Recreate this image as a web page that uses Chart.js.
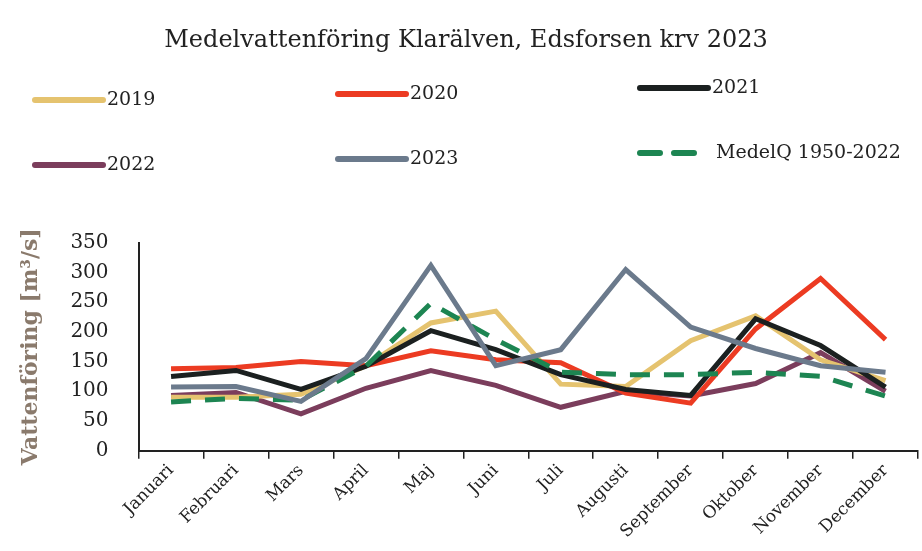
<!DOCTYPE html>
<html>
<head>
<meta charset="utf-8">
<script src="https://cdn.jsdelivr.net/npm/chart.js@4.4.0/dist/chart.umd.min.js"></script>
<style>
  html, body { margin: 0; padding: 0; background: #fff; }
  #wrap { width: 922px; height: 551px; position: relative; }
</style>
</head>
<body>
<div id="wrap"><canvas id="flowChart" width="922" height="551"></canvas></div>
<script>
const months = ['Januari', 'Februari', 'Mars', 'April', 'Maj', 'Juni', 'Juli', 'Augusti', 'September', 'Oktober', 'November', 'December'];

const flow2019 = [90, 90, 95, 143, 215, 235, 112, 108, 185, 227, 153, 118];
const flow2020 = [138, 140, 150, 143, 168, 153, 148, 97, 80, 205, 290, 187];
const flow2021 = [125, 135, 103, 142, 202, 170, 128, 103, 93, 222, 177, 107];
const flow2022 = [93, 98, 62, 105, 135, 110, 73, 100, 92, 113, 165, 100];
const flow2023 = [107, 108, 83, 155, 312, 143, 170, 305, 208, 172, 143, 132];
const medelQ = [82, 88, 85, 142, 248, 187, 132, 128, 128, 132, 125, 92];

const yTicks = [0, 50, 100, 150, 200, 250, 300, 350];

const serif = '"DejaVu Serif", "Liberation Serif", serif';

// legend drawn on canvas in a 3 x 2 grid, from the dataset list
const gridLegend = {
  id: 'gridLegend',
  afterDraw(chart) {
    const ctx = chart.ctx;
    const cols = [35, 338, 640];
    const rows = [100, 165];
    chart.data.datasets.forEach((ds, i) => {
      const x = cols[i % 3];
      const y = rows[Math.floor(i / 3)] - (i % 3) * 6;
      ctx.save();
      ctx.strokeStyle = ds.borderColor;
      ctx.lineWidth = 6;
      ctx.lineCap = 'round';
      ctx.setLineDash(ds.borderDash || []);
      ctx.beginPath();
      ctx.moveTo(x, y);
      ctx.lineTo(x + 68, y);
      ctx.stroke();
      ctx.setLineDash([]);
      ctx.fillStyle = '#222';
      ctx.font = '19px ' + serif;
      ctx.textBaseline = 'middle';
      ctx.fillText(ds.label, x + (ds.borderDash ? 76 : 72), y);
      ctx.restore();
    });
  }
};

const ctx = document.getElementById('flowChart').getContext('2d');
new Chart(ctx, {
  type: 'line',
  data: {
    labels: months,
    datasets: [
      { label: '2019', data: flow2019, borderColor: '#e5c36f', order: 5 },
      { label: '2020', data: flow2020, borderColor: '#ec3b22', order: 4 },
      { label: '2021', data: flow2021, borderColor: '#1b2020', order: 3 },
      { label: '2022', data: flow2022, borderColor: '#7b3d5c', order: 6 },
      { label: '2023', data: flow2023, borderColor: '#6b7a8c', order: 1 },
      { label: 'MedelQ 1950-2022', data: medelQ, borderColor: '#1d8552', borderDash: [20, 14], order: 2 }
    ].map(ds => Object.assign({ borderWidth: 5, pointRadius: 0, tension: 0, fill: false }, ds))
  },
  options: {
    responsive: false,
    animation: false,
    layout: { padding: { top: 10, right: 4, left: 14, bottom: 7 } },
    plugins: {
      legend: { display: false },
      tooltip: { enabled: false },
      title: {
        display: true,
        text: 'Medelvattenföring Klarälven, Edsforsen krv 2023',
        color: '#222',
        font: { family: serif, size: 24, weight: 'normal' },
        padding: { top: 16, bottom: 188 }
      }
    },
    scales: {
      x: {
        offset: true,
        grid: { display: true, drawOnChartArea: false, drawTicks: true, tickLength: 8, offset: true, color: '#222', lineWidth: 1.5 },
        border: { display: true, color: '#222', width: 2 },
        ticks: {
          color: '#222',
          font: { family: serif, size: 17 },
          minRotation: 45,
          maxRotation: 45,
          padding: 2
        }
      },
      y: {
        min: 0,
        max: 350,
        afterBuildTicks: axis => { axis.ticks = yTicks.map(v => ({ value: v })); },
        grid: { display: false },
        border: { display: true, color: '#222', width: 2 },
        ticks: {
          color: '#222',
          font: { family: serif, size: 20 },
          padding: 22
        },
        title: {
          display: true,
          text: 'Vattenföring [m³/s]',
          color: '#8a7a6c',
          font: { family: serif, size: 22, weight: 'bold' },
          padding: { bottom: 4 }
        }
      }
    }
  },
  plugins: [gridLegend]
});
</script>
</body>
</html>
